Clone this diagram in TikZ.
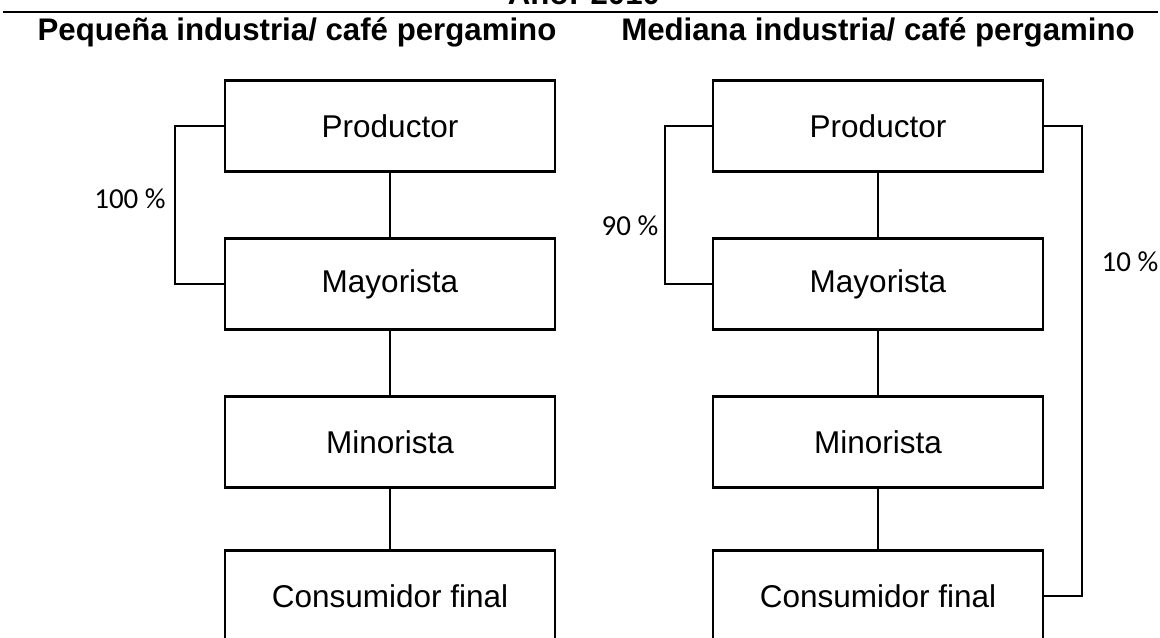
\documentclass[tikz,border=0pt]{standalone}
\usepackage{fontspec}
\setmainfont{Liberation Sans}
\newfontfamily\pctfont{Carlito}

\tikzstyle{caja}=[draw, line width=1.5pt, rectangle, minimum width=8.25cm, minimum height=2.275cm, inner sep=0pt, font=\fontsize{22.4}{26}\selectfont]
\tikzstyle{titulo}=[font=\bfseries\fontsize{22.2}{26}\selectfont, anchor=base, inner sep=0pt]
\tikzstyle{pct}=[font=\pctfont\fontsize{20.6}{24}\selectfont, inner sep=0pt]
\tikzstyle{linea}=[line width=1.3pt]

\begin{document}
\begin{tikzpicture}[x=0.025cm, y=-0.025cm]
\useasboundingbox (0,0) rectangle (1160,638);

% cabecera
\node[titulo] (anio) at (584,4) {Año: 2010};
\draw[line width=1.5pt] (3,12) -- (1158,12);
\node[titulo] (tituloA) at (297,40) {Pequeña industria/ café pergamino};
\node[titulo] (tituloB) at (878,40) {Mediana industria/ café pergamino};

% pequena industria
\node[caja] (prodA) at (390,126) {Productor};
\node[caja] (mayA) at (390,284) {Mayorista};
\node[caja] (minA) at (390,442) {Minorista};
\node[caja] (consA) at (390,596) {Consumidor final};

\draw[linea] (prodA) -- (mayA);
\draw[linea] (mayA) -- (minA);
\draw[linea] (minA) -- (consA);
\draw[linea] (prodA.west) -- ++(-49,0) |- (mayA.west);
\node[pct] (pctA) at (130,199) {100 \%};

% mediana industria
\node[caja] (prodB) at (878,126) {Productor};
\node[caja] (mayB) at (878,284) {Mayorista};
\node[caja] (minB) at (878,442) {Minorista};
\node[caja] (consB) at (878,596) {Consumidor final};

\draw[linea] (prodB) -- (mayB);
\draw[linea] (mayB) -- (minB);
\draw[linea] (minB) -- (consB);
\draw[linea] (prodB.west) -- ++(-47,0) |- (mayB.west);
\draw[linea] (prodB.east) -- ++(38,0) |- (consB.east);
\node[pct] (pctB) at (630,226) {90 \%};
\node[pct] (pctC) at (1130,262) {10 \%};

\end{tikzpicture}
\end{document}
